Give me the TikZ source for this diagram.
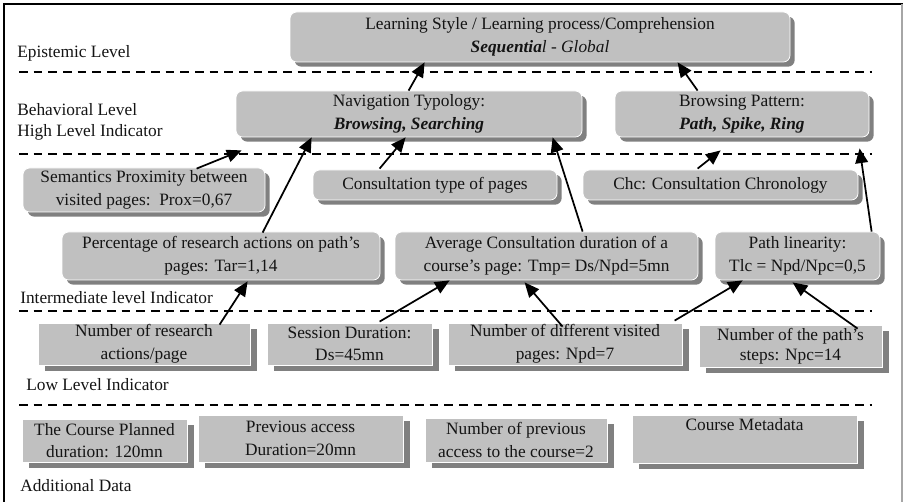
\documentclass[tikz,border=0pt]{standalone}
\usepackage{fontspec}
\setmainfont{Liberation Serif}
\usepackage{tikz}
\usetikzlibrary{shadows}
\usetikzlibrary{arrows.meta,calc}
\newlength\pxu
\setlength\pxu{0.75pt}
\definecolor{boxgray}{RGB}{192,192,192}
\definecolor{shadegray}{RGB}{128,128,128}
\definecolor{inkgray}{RGB}{20,20,20}
\tikzstyle{roundbox}=[rectangle,rounded corners=5pt,fill=boxgray,draw=white,line width=0.6pt,inner sep=0pt,align=center,
    drop shadow={shadow xshift=3.5pt,shadow yshift=-3.5pt,fill=shadegray,opacity=1}]
\tikzstyle{flatbox}=[rectangle,fill=boxgray,draw=white,line width=0.6pt,inner sep=0pt,align=center,
    drop shadow={shadow xshift=5pt,shadow yshift=-4.5pt,fill=shadegray,opacity=1}]
\tikzstyle{link} = [draw,line width=1.3pt,-{Triangle[length=11pt,width=9.5pt]}]
\tikzstyle{separator} = [draw,line width=1.4pt,dash pattern=on 6.5pt off 4.5pt]
\tikzstyle{level} = [anchor=west,inner sep=0pt,align=left]

\begin{document}
\begin{tikzpicture}[x=0.75pt,y=-0.75pt,font=\fontsize{13}{17}\selectfont,text=inkgray]
    \useasboundingbox (0,0) rectangle (903,502);
    % frame
    \draw[line width=1.6pt] (4,502) -- (4,4) -- (903,4);
    \draw[black!35,line width=0.8pt] (902,4) -- (902,502);

    % level separators
    \foreach \y in {72,154,311,405}
        \path[separator] (19,\y) -- (872,\y);

    % level names
    \node[level] (epi) at (17,53) {Epistemic Level};
    \node[level,font=\fontsize{13}{16}\selectfont] (beh) at (17,122) {Behavioral Level\\High Level Indicator};
    \node[level] (int) at (20,298) {Intermediate level Indicator};
    \node[level] (low) at (26,385) {Low Level Indicator};
    \node[level] (add) at (20,486) {Additional Data};

    % epistemic and behavioral boxes
    \node[roundbox,minimum width=500\pxu,minimum height=50\pxu] (les) at (540,37)
        {Learning Style / Learning process/Comprehension\\\textbf{\textit{Sequentia}}\textit{l - Global}};
    \node[roundbox,minimum width=346\pxu,minimum height=46\pxu] (nav) at (409,114)
        {Navigation Typology:\\\textbf{\textit{Browsing, Searching}}};
    \node[roundbox,minimum width=254\pxu,minimum height=46\pxu] (bro) at (742,114)
        {Browsing Pattern:\\\textbf{\textit{Path, Spike, Ring}}};

    % intermediate indicators
    \node[roundbox,minimum width=242\pxu,minimum height=44\pxu] (sem) at (144,190)
        {Semantics Proximity between\\visited pages:~~Prox=0,67};
    \node[roundbox,minimum width=244\pxu,minimum height=30\pxu] (con) at (435,185) {Consultation type of pages};
    \node[roundbox,minimum width=275\pxu,minimum height=30\pxu] (chc) at (720.5,185) {Chc: Consultation Chronology};
    \node[roundbox,minimum width=318\pxu,minimum height=48\pxu] (pct) at (221,256)
        {Percentage of research actions on path’s\\pages: Tar=1,14};
    \node[roundbox,minimum width=303\pxu,minimum height=48\pxu] (avg) at (546.5,256)
        {Average Consultation duration of a\\course’s page: Tmp= Ds/Npd=5mn};
    \node[roundbox,minimum width=165\pxu,minimum height=48\pxu] (lin) at (797.5,256)
        {Path linearity:\\Tlc = Npd/Npc=0,5};

    % low level indicators
    \node[flatbox,minimum width=212\pxu,minimum height=42\pxu] (res) at (144,344) {Number of research\\actions/page};
    \node[flatbox,minimum width=165\pxu,minimum height=42\pxu] (ses) at (349.5,344) {Session Duration:\\Ds=45mn};
    \node[flatbox,minimum width=234\pxu,minimum height=42\pxu] (vis) at (565,344) {Number of different visited\\pages: Npd=7};
    \node[flatbox,minimum width=183\pxu,minimum height=42\pxu,font=\fontsize{13}{15}\selectfont] (stp) at (790.5,346)
        {Number of the path’s\\steps: Npc=14};

    % additional data
    \node[flatbox,minimum width=165\pxu,minimum height=43\pxu] (cpd) at (104.5,440.5) {The Course Planned\\duration: 120mn};
    \node[flatbox,minimum width=205\pxu,minimum height=47\pxu] (pra) at (300.5,438.5) {Previous access\\Duration=20mn};
    \node[flatbox,minimum width=182\pxu,minimum height=44\pxu] (npa) at (516,440) {Number of previous\\access to the course=2};
    \node[flatbox,minimum width=225\pxu,minimum height=48\pxu] (cmd) at (744.5,439) {Course Metadata\\\strut};

    % links between indicators
    \foreach \src/\sx/\sy/\dst/\dx/\dy in {sem/174/1/nav/6/13, pct/201/1/nav/76/0, con/67/-1/nav/170/0,
            avg/188/0/nav/317/0, chc/115/-1/bro/106/13, lin/157/0/bro/245/11,
            nav/173/0/les/135/0, bro/83/0/les/388/0,
            res/182/2/pct/186/1, ses/113/-1/avg/55/0, vis/115/4/avg/130/2,
            vis/227/-2/lin/28/0, stp/159/4/lin/78/2}
        \path[link] ($(\src.north west)+(\sx,\sy)$) -- ($(\dst.south west)+(\dx,\dy)$);
\end{tikzpicture}
\end{document}
